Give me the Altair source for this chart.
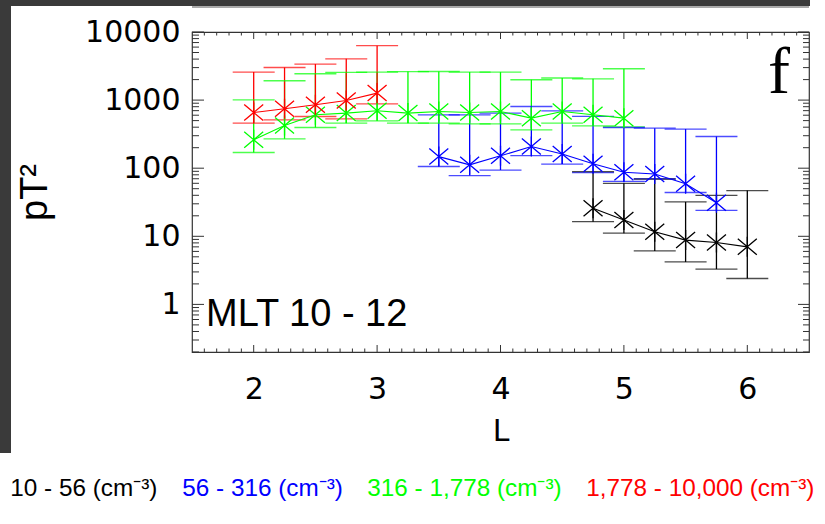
import altair as alt
import pandas as pd

# ---------------- data ----------------
SERIES = ["10 - 56 (cm⁻³)", "56 - 316 (cm⁻³)", "316 - 1,778 (cm⁻³)", "1,778 - 10,000 (cm⁻³)"]
COLORS = ["#000000", "#0000ff", "#00ff00", "#ff0000"]

L_black = [4.75, 5.0, 5.25, 5.5, 5.75, 6.0]
v_black = [25.8, 17.4, 11.7, 8.8, 8.1, 7.0]
lo_black = [16.4, 11.1, 6.1, 4.2, 3.3, 2.4]
hi_black = [89, 60, 69, 32, 40, 47]

L_blue = [3.5, 3.75, 4.0, 4.25, 4.5, 4.75, 5.0, 5.25, 5.5, 5.75]
v_blue = [148, 112, 152, 208, 162, 116, 87, 82, 59, 31]
lo_blue = [106, 78, 94, 153, 115, 86, 64, 70, 44, 24]
hi_blue = [608, 608, 644, 805, 696, 578, 396, 387, 376, 292]

L_green = [2.0, 2.25, 2.5, 2.75, 3.0, 3.25, 3.5, 3.75, 4.0, 4.25, 4.5, 4.75, 5.0]
v_green = [261, 423, 608, 644, 696, 644, 680, 658, 680, 543, 680, 608, 543]
lo_green = [170, 270, 396, 459, 497, 459, 459, 448, 448, 366, 459, 419, 405]
hi_green = [1009, 1925, 2438, 2546, 2580, 2620, 2630, 2580, 2580, 1990, 2110, 2050, 2884]

L_red = [2.0, 2.25, 2.5, 2.75, 3.0]
v_red = [658, 745, 853, 986, 1267]
lo_red = [459, 513, 574, 531, 883]
hi_red = [2580, 3010, 3383, 4044, 6300]

X_LABEL_TICKS = [2, 3, 4, 5, 6]
Y_LABEL_TICKS = [1, 10, 100, 1000, 10000]
X_MINOR = [round(1.5 + 0.1 * i, 1) for i in range(1, 50) if (i + 5) % 10 != 0]
Y_MINOR = [m * 10.0 ** e for e in range(-1, 4) for m in range(2, 10) if m * 10.0 ** e >= 0.2]

PANEL_LABEL = ["f"]
ANNOTATION = ["MLT 10 - 12"]

# ---------------- build table ----------------
rows = []
for name, Ls, vs, los, his in [
    (SERIES[0], L_black, v_black, lo_black, hi_black),
    (SERIES[1], L_blue, v_blue, lo_blue, hi_blue),
    (SERIES[2], L_green, v_green, lo_green, hi_green),
    (SERIES[3], L_red, v_red, lo_red, hi_red),
]:
    for L, v, lo, hi in zip(Ls, vs, los, his):
        rows.append({"series": name, "L": L, "v": v, "lo": lo, "hi": hi})
df = pd.DataFrame(rows)

W, H = 617, 320
FRAME = "#333333"
AXFONT = "DejaVu Sans"
xscale = alt.Scale(domain=[1.5, 6.5], nice=False, zero=False)
yscale = alt.Scale(type="log", domain=[0.2, 10000], nice=False)
cscale = alt.Scale(domain=SERIES, range=COLORS)

X_AXIS = alt.Axis(values=X_LABEL_TICKS, ticks=False, domain=False, grid=False,
                  labelFont=AXFONT, labelFontSize=30, labelColor="black",
                  labelPadding=22, titleFont=AXFONT, titleFontSize=30,
                  titleFontWeight="normal", titleColor="black", titlePadding=12)
Y_AXIS = alt.Axis(values=Y_LABEL_TICKS, format="d", ticks=False, domain=False, grid=False,
                  labelFont=AXFONT, labelFontSize=30, labelColor="black",
                  labelPadding=12, titleFont="Liberation Sans", titleFontSize=38,
                  titleFontWeight="normal", titleColor="black", titlePadding=30)

LEGEND = alt.Legend(
    title=None, orient="none", legendX=-206, legendY=433,
    direction="horizontal", columns=4,
    symbolSize=0, symbolOpacity=0, symbolStrokeWidth=0, labelOffset=0,
    labelFont="Liberation Sans",
    labelFontSize=24.3, labelLimit=600, columnPadding=-11, padding=0,
    labelBaseline="top",
    labelColor={"expr": "scale('color', datum.value)"},
)


def X(field):
    return alt.X(field, scale=xscale, title="L", axis=X_AXIS)


def Y(field):
    return alt.Y(field, scale=yscale, title="pT²", axis=Y_AXIS)


COLOR = alt.Color("series:N", scale=cscale, legend=LEGEND)

base = alt.Chart(df)

bars = base.mark_rule(strokeWidth=1.3).encode(x=X("L:Q"), y=Y("lo:Q"), y2="hi:Q", color=COLOR)
cap_lo = base.mark_tick(orient="horizontal", size=42, thickness=1.3).encode(
    x=X("L:Q"), y=Y("lo:Q"), color=COLOR)
cap_hi = base.mark_tick(orient="horizontal", size=42, thickness=1.3).encode(
    x=X("L:Q"), y=Y("hi:Q"), color=COLOR)
lines = base.mark_line(strokeWidth=1.1).encode(x=X("L:Q"), y=Y("v:Q"), color=COLOR)
STAR = "M0,-1L0,1M-0.95,-0.8L0.95,0.8M-0.95,0.8L0.95,-0.8"
points = base.mark_point(shape=STAR, size=400, filled=False, strokeWidth=1.3, opacity=1).encode(
    x=X("L:Q"), y=Y("v:Q"), color=COLOR)


# ---------------- inward frame ticks ----------------
def ytick(values, x0, x1):
    return alt.Chart(pd.DataFrame({"t": values})).mark_rule(color=FRAME, strokeWidth=1).encode(
        y=Y("t:Q"), x=alt.value(x0), x2=alt.value(x1))


def xtick(values, y0, y1):
    return alt.Chart(pd.DataFrame({"t": values})).mark_rule(color=FRAME, strokeWidth=1).encode(
        x=X("t:Q"), y=alt.value(y0), y2=alt.value(y1))


ticks = [
    ytick(Y_LABEL_TICKS, 0, 12), ytick(Y_MINOR, 0, 7),
    ytick(Y_LABEL_TICKS, W, W - 11), ytick(Y_MINOR, W, W - 6),
    xtick(X_LABEL_TICKS, H, H - 7), xtick(X_MINOR, H, H - 3.5),
    xtick(X_LABEL_TICKS, 0, 7), xtick(X_MINOR, 0, 3.5),
]

# ---------------- annotations ----------------
panel = alt.Chart(pd.DataFrame({"t": PANEL_LABEL})).mark_text(
    font="Liberation Serif", fontSize=66, align="right", baseline="alphabetic", color="black"
).encode(text="t:N", x=alt.value(598), y=alt.value(61))

mlt = alt.Chart(pd.DataFrame({"t": ANNOTATION})).mark_text(
    font="Liberation Sans", fontSize=38, align="left", baseline="alphabetic", color="black"
).encode(text="t:N", x=alt.value(14), y=alt.value(294))

# cropped remains of the neighbouring panel (dark border strip)
deco_df = pd.DataFrame({"a": [0]})
band_top = alt.Chart(deco_df).mark_rect(color="#3a3a3a").encode(
    x=alt.value(-192), x2=alt.value(618), y=alt.value(-32), y2=alt.value(-26))
band_left = alt.Chart(deco_df).mark_rect(color="#3a3a3a").encode(
    x=alt.value(-192), x2=alt.value(-181), y=alt.value(-32), y2=alt.value(421))
top_line = alt.Chart(deco_df).mark_rule(color="#555555", strokeWidth=1).encode(
    x=alt.value(0), x2=alt.value(617), y=alt.value(-25))

chart = alt.layer(
    band_top, band_left, top_line,
    *ticks, bars, cap_lo, cap_hi, lines, points, panel, mlt
).properties(
    width=W, height=H,
    autosize=alt.AutoSizeParams(type="none"),
    padding={"left": 192, "top": 32, "right": 16, "bottom": 172},
    background="white",
).configure_view(stroke=FRAME, strokeWidth=1.2)

chart.save("out.html", embed_options={"renderer": "svg", "actions": False})
